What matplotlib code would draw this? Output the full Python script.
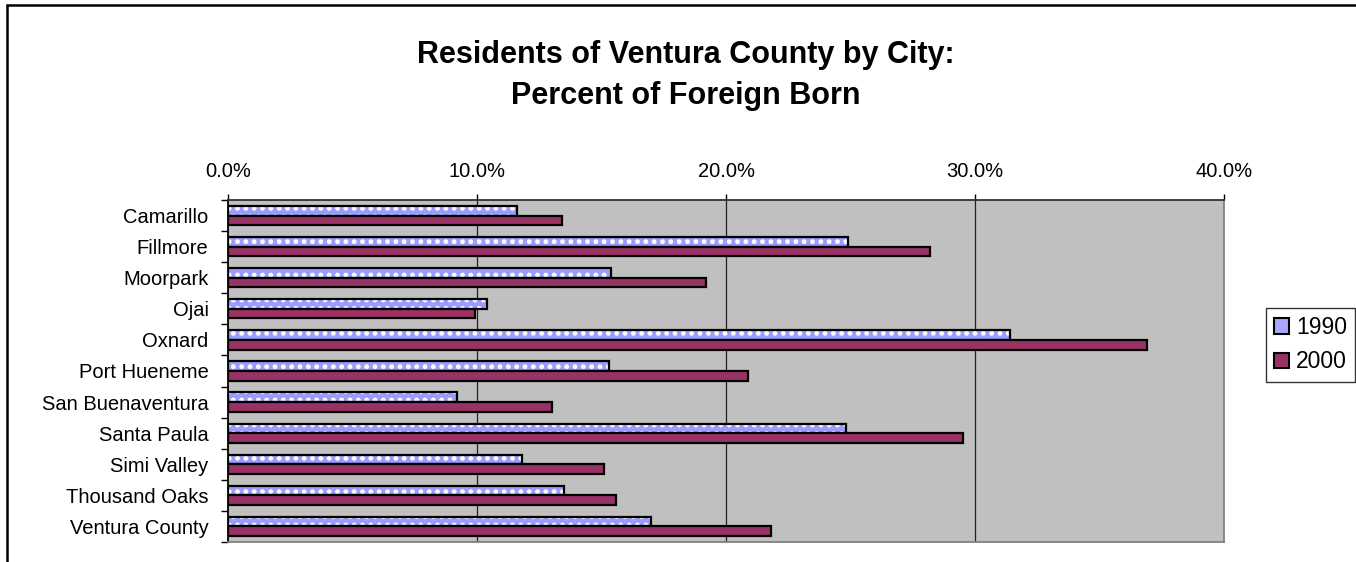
import matplotlib
matplotlib.use("Agg")
import matplotlib.pyplot as plt
import numpy as np
from matplotlib.patches import Patch, Rectangle
from matplotlib.ticker import FixedLocator, FuncFormatter

plt.rcParams['font.family'] = ['Liberation Sans', 'DejaVu Sans']
plt.rcParams['hatch.linewidth'] = 2.2

cities = ["Camarillo", "Fillmore", "Moorpark", "Ojai", "Oxnard", "Port Hueneme",
          "San Buenaventura", "Santa Paula", "Simi Valley", "Thousand Oaks", "Ventura County"]
pct_1990 = [11.6, 24.9, 15.4, 10.4, 31.4, 15.3, 9.2, 24.8, 11.8, 13.5, 17.0]
pct_2000 = [13.4, 28.2, 19.2, 9.9, 36.9, 20.9, 13.0, 29.5, 15.1, 15.6, 21.8]
series_labels = ["1990", "2000"]
x_ticks = [0, 10, 20, 30, 40]

W, H = 1356, 562
fig = plt.figure(figsize=(W / 100, H / 100), dpi=100)

# outer chart frame
fig.patches.append(Rectangle((7 / W, -0.1), 1.2, (H - 5) / H + 0.1, transform=fig.transFigure,
                             fill=False, edgecolor='black', linewidth=1.8))

ax = fig.add_axes([228 / W, 1 - 542 / H, (1224 - 228) / W, (542 - 200) / H])
ax.set_facecolor('#C0C0C0')

y = np.arange(len(cities))
h = 0.31
c1990 = '#A8A8FF'
c2000 = '#993366'

# 1990: patterned fill then black outline
ax.barh(y - h / 2, pct_1990, height=h, color='#9C9CFF', edgecolor='white',
        hatch='..', linewidth=0, zorder=3)
ax.barh(y - h / 2, pct_1990, height=h, color='none', edgecolor='black',
        linewidth=1.6, zorder=4)
ax.barh(y + h / 2, pct_2000, height=h, color=c2000, edgecolor='black',
        linewidth=1.6, zorder=4)

ax.set_xlim(0, 40)
ax.set_ylim(len(cities) - 0.5, -0.5)

ax.xaxis.tick_top()
ax.set_xticks(x_ticks)
ax.xaxis.set_major_formatter(FuncFormatter(lambda v, p: f"{v:.1f}%"))
ax.tick_params(axis='x', direction='out', length=4, width=1, pad=10, labelsize=14.5,
               colors='black')

ax.yaxis.set_major_locator(FixedLocator(list(y)))
ax.set_yticklabels(cities)
ax.yaxis.set_minor_locator(FixedLocator(list(np.arange(-0.5, len(cities), 1.0))))
ax.tick_params(axis='y', which='major', length=0, pad=14, labelsize=14.5)
ax.tick_params(axis='y', which='minor', direction='out', length=5, width=1)

for xv in x_ticks[1:-1]:
    ax.axvline(xv, color='#202020', linewidth=0.9, zorder=1)

ax.spines['left'].set_color('black')
ax.spines['top'].set_color('#303030')
ax.spines['right'].set_color('#808080')
ax.spines['bottom'].set_color('#808080')
for s in ax.spines.values():
    s.set_linewidth(1.3)

fig.text(686 / W, 1 - 55 / H, "Residents of Ventura County by City:", ha='center', va='center',
         fontsize=22, fontweight='bold')
fig.text(686 / W, 1 - 96 / H, "Percent of Foreign Born", ha='center', va='center',
         fontsize=22, fontweight='bold')

handles = [Patch(facecolor=c1990, edgecolor='black', linewidth=1.5),
           Patch(facecolor=c2000, edgecolor='black', linewidth=1.5)]
leg = fig.legend(handles, series_labels, loc='upper left', bbox_to_anchor=(1266 / W, 1 - 308 / H),
                 bbox_transform=fig.transFigure, fontsize=16.5, frameon=True, fancybox=False,
                 handlelength=0.65, handleheight=0.65, handletextpad=0.3, borderpad=0.35,
                 labelspacing=0.5, borderaxespad=0)
leg.get_frame().set_edgecolor('black')
leg.get_frame().set_linewidth(1)

fig.savefig("out.png", dpi=100)
